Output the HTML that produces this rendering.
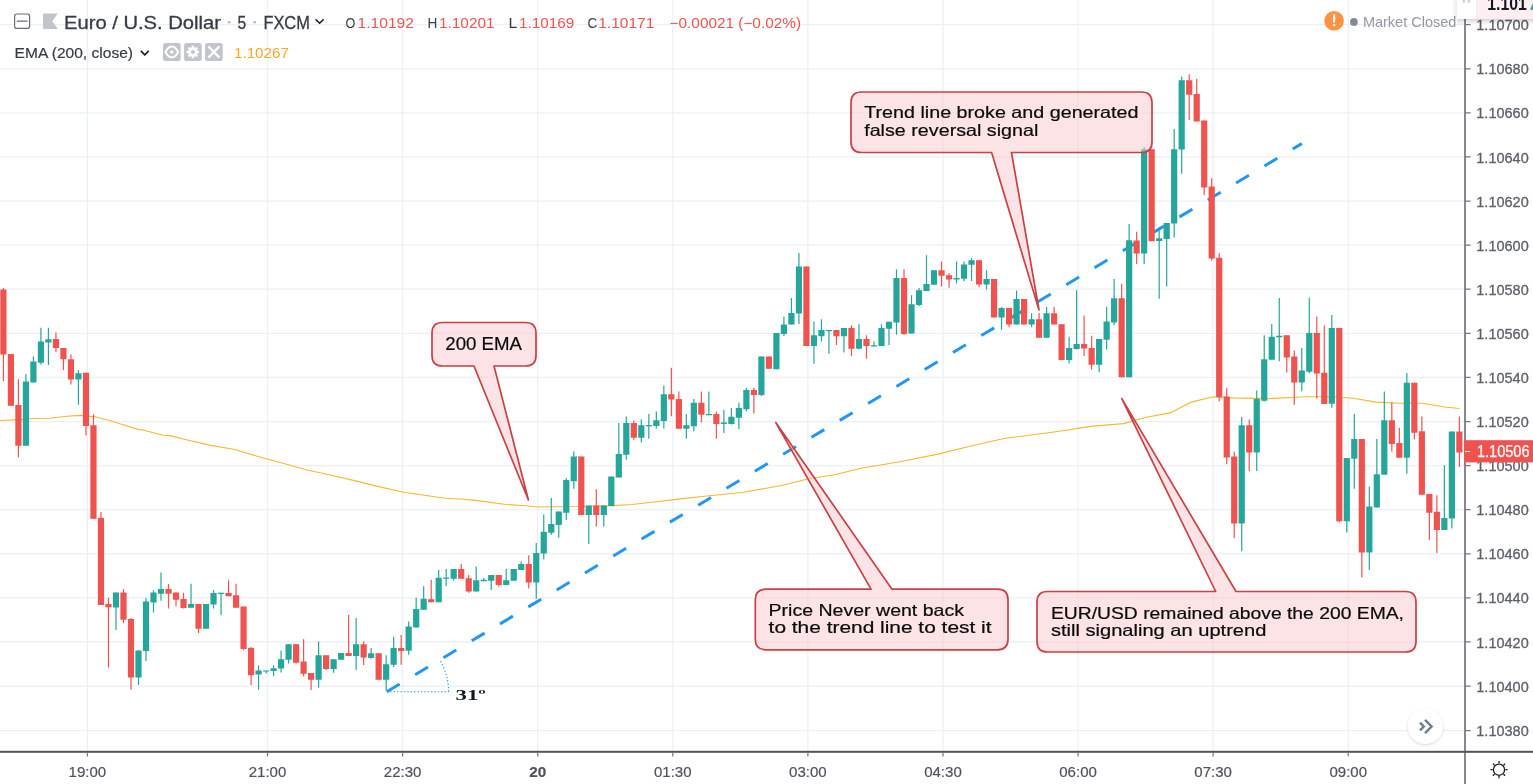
<!DOCTYPE html>
<html><head><meta charset="utf-8"><style>
html,body{margin:0;padding:0;background:#fff;width:1533px;height:784px;overflow:hidden}
svg{display:block;will-change:transform}
text{font-family:"Liberation Sans",sans-serif}
</style></head><body>
<svg width="1533" height="784" viewBox="0 0 1533 784">
<rect width="1533" height="784" fill="#fff"/>
<path d="M87.4 0V751M267.52 0V751M402.61 0V751M537.7 0V751M672.79 0V751M807.88 0V751M942.97 0V751M1078.06 0V751M1213.15 0V751M1348.24 0V751M0 24.7H1465M0 68.79H1465M0 112.88H1465M0 156.97H1465M0 201.06H1465M0 245.15H1465M0 289.24H1465M0 333.33H1465M0 377.42H1465M0 421.51H1465M0 465.6H1465M0 509.69H1465M0 553.78H1465M0 597.87H1465M0 641.96H1465M0 686.05H1465M0 730.7H1465" stroke="#ebf0f4" stroke-width="1.25" fill="none"/>
<polyline points="0,420.5 23,419.4 34,418.5 50,418.2 60,417 70,416 81,415.4 90,416.4 95,416.8 114,421.7 120,423.8 138,429.4 143,430 162,435 170,435.6 186.5,439.8 210.7,445.4 234.8,449.5 259,456.7 283,463.2 307,470 331.4,475.3 355.5,480.9 379.7,486.9 403.8,492.2 428,495.8 445,498.2 460,499 475.6,500.4 506,504.5 526.6,505.7 537,507 552,506.7 583,506.5 613,505.6 632,504.5 652,502.2 678.3,499.1 704.4,496.2 743.5,492.3 782.6,485.2 808.7,478.7 834.8,474.8 861,468.3 900,461.7 939,453.9 972,445.8 1005,438.2 1020,436.5 1055.7,431.8 1091,426.4 1123.6,423.6 1145,417.5 1170,412.9 1191.4,402.1 1212.9,396.8 1234,397.9 1270,398.6 1305.7,396.8 1334.6,396.7 1353,398.3 1376,402.1 1399,403.3 1422,403.3 1444.8,407 1459.3,408.5" fill="none" stroke="#f7b72c" stroke-width="1.1" stroke-linejoin="round"/>
<line x1="386.8" y1="691.7" x2="1301.8" y2="143.6" stroke="#2196f3" stroke-width="3" stroke-dasharray="15 18"/>
<path d="M25.31 374h1.2v71.8h-1.2zM32.82 356.5h1.2v25.9h-1.2zM40.32 327.8h1.2v36.7h-1.2zM47.83 327.8h1.2v37.2h-1.2zM77.85 370h1.2v34.7h-1.2zM115.38 592.6h1.2v37.3h-1.2zM137.89 650.4h1.2v34.7h-1.2zM145.4 598h1.2v63h-1.2zM152.9 590.2h1.2v22.4h-1.2zM160.41 572.5h1.2v28.3h-1.2zM190.43 583.8h1.2v23.9h-1.2zM205.44 604.1h1.2v24.7h-1.2zM212.94 590h1.2v18.6h-1.2zM220.45 592.7h1.2v22.3h-1.2zM257.97 665.4h1.2v24.4h-1.2zM265.47 670.4h1.2v3h-1.2zM272.98 665.3h1.2v11h-1.2zM280.48 650.4h1.2v22h-1.2zM287.99 644.3h1.2v19.2h-1.2zM318.01 641.5h1.2v46.3h-1.2zM333.02 659.3h1.2v13.4h-1.2zM340.52 652.9h1.2v6.8h-1.2zM355.53 617.9h1.2v52h-1.2zM370.54 648h1.2v10.7h-1.2zM385.55 655.2h1.2v35.4h-1.2zM393.06 636.7h1.2v30.4h-1.2zM408.07 621.4h1.2v33.4h-1.2zM415.57 597.8h1.2v29.7h-1.2zM423.08 586.3h1.2v23.4h-1.2zM438.09 570.1h1.2v32.1h-1.2zM445.59 569.1h1.2v16.9h-1.2zM453.1 569.1h1.2v11.3h-1.2zM475.61 566.5h1.2v24.9h-1.2zM483.12 577.8h1.2v3.4h-1.2zM490.62 575.1h1.2v14.9h-1.2zM505.63 569h1.2v15.9h-1.2zM513.14 569h1.2v11.8h-1.2zM520.64 561.4h1.2v8.6h-1.2zM535.65 543.1h1.2v55.7h-1.2zM543.16 514.4h1.2v45h-1.2zM550.66 498h1.2v36.7h-1.2zM558.17 511.6h1.2v26.2h-1.2zM565.67 478h1.2v42h-1.2zM573.18 451.4h1.2v37.4h-1.2zM588.19 505.5h1.2v38.4h-1.2zM603.2 505.5h1.2v21h-1.2zM610.7 476.5h1.2v29.6h-1.2zM618.21 422.9h1.2v54.7h-1.2zM625.71 416.5h1.2v43.3h-1.2zM640.72 419.2h1.2v23.4h-1.2zM648.23 414h1.2v24.8h-1.2zM655.73 411.5h1.2v17.1h-1.2zM663.24 385.4h1.2v43.2h-1.2zM685.75 414h1.2v24.8h-1.2zM693.26 399h1.2v32.3h-1.2zM708.27 391.4h1.2v23.8h-1.2zM723.28 410h1.2v23h-1.2zM730.78 408h1.2v16.5h-1.2zM738.29 402.7h1.2v26.2h-1.2zM745.79 387.7h1.2v23.5h-1.2zM760.8 356.6h1.2v39.3h-1.2zM775.81 333.1h1.2v36.1h-1.2zM783.32 316.7h1.2v19.3h-1.2zM790.82 298h1.2v26.6h-1.2zM798.33 252.9h1.2v71h-1.2zM813.34 321.5h1.2v42.2h-1.2zM820.84 319.2h1.2v22.2h-1.2zM828.35 330.1h1.2v23.7h-1.2zM843.36 328.1h1.2v24.5h-1.2zM858.37 324.2h1.2v25.3h-1.2zM873.38 341.5h1.2v4.9h-1.2zM880.88 324.2h1.2v21.9h-1.2zM888.39 321.8h1.2v23.1h-1.2zM895.89 269.3h1.2v65.4h-1.2zM910.9 295.3h1.2v38.3h-1.2zM918.41 287.9h1.2v18.4h-1.2zM925.91 255.2h1.2v35.9h-1.2zM933.42 270.3h1.2v14.5h-1.2zM955.93 261.5h1.2v22h-1.2zM963.44 261.5h1.2v19.7h-1.2zM970.94 258h1.2v23h-1.2zM985.95 270.3h1.2v19.1h-1.2zM1000.96 307h1.2v22.7h-1.2zM1015.97 290.5h1.2v34.1h-1.2zM1030.99 313.2h1.2v14h-1.2zM1046 307h1.2v30.7h-1.2zM1068.51 336.8h1.2v26.8h-1.2zM1076.02 290.3h1.2v59.3h-1.2zM1098.53 339.1h1.2v33.2h-1.2zM1106.04 306.7h1.2v42.9h-1.2zM1113.54 279h1.2v45.9h-1.2zM1128.55 224.1h1.2v153.2h-1.2zM1143.56 146.9h1.2v117h-1.2zM1158.57 227.1h1.2v71.7h-1.2zM1166.08 223h1.2v63.4h-1.2zM1173.58 129.1h1.2v108.5h-1.2zM1181.09 76.5h1.2v97.2h-1.2zM1241.13 416.9h1.2v134.4h-1.2zM1256.14 390.6h1.2v80.3h-1.2zM1263.64 335.3h1.2v66.1h-1.2zM1271.15 324.1h1.2v35.7h-1.2zM1278.65 298h1.2v63.2h-1.2zM1301.17 348h1.2v43.3h-1.2zM1308.67 297.7h1.2v75.9h-1.2zM1331.19 315h1.2v92.7h-1.2zM1346.2 458h1.2v74.4h-1.2zM1353.7 414h1.2v74.7h-1.2zM1368.71 486.4h1.2v83.5h-1.2zM1376.22 439.1h1.2v68.5h-1.2zM1383.72 391.4h1.2v83.4h-1.2zM1406.24 373h1.2v100.8h-1.2zM1443.76 465.3h1.2v64.7h-1.2zM1451.27 431.5h1.2v97h-1.2z" fill="#26a69a"/>
<path d="M2.8 288h1.2v93h-1.2zM10.3 353.9h1.2v51.9h-1.2zM17.81 379.2h1.2v78h-1.2zM55.33 332.6h1.2v19.7h-1.2zM62.84 348.1h1.2v21.9h-1.2zM70.35 354.2h1.2v30.3h-1.2zM85.36 372.8h1.2v62.8h-1.2zM92.86 414.3h1.2v104.4h-1.2zM100.37 511.9h1.2v93h-1.2zM107.87 597.8h1.2v69.6h-1.2zM122.88 589h1.2v34.3h-1.2zM130.38 618h1.2v71.8h-1.2zM167.91 583.9h1.2v24.7h-1.2zM175.42 592.6h1.2v13.7h-1.2zM182.92 592.7h1.2v15.9h-1.2zM197.93 604.1h1.2v28.8h-1.2zM227.95 580.2h1.2v16.1h-1.2zM235.46 583.8h1.2v23.9h-1.2zM242.96 606.4h1.2v43.8h-1.2zM250.47 647h1.2v38h-1.2zM295.49 644.3h1.2v19.2h-1.2zM303 639.3h1.2v37h-1.2zM310.5 673h1.2v16.9h-1.2zM325.51 655.2h1.2v14.7h-1.2zM348.03 615h1.2v41.1h-1.2zM363.04 641.6h1.2v23.4h-1.2zM378.05 653.3h1.2v26.4h-1.2zM400.56 635.1h1.2v29.7h-1.2zM430.58 579.7h1.2v22.5h-1.2zM460.6 563.9h1.2v14.9h-1.2zM468.11 575.1h1.2v17.6h-1.2zM498.13 575.1h1.2v11.4h-1.2zM528.15 555.3h1.2v33.3h-1.2zM580.68 456.5h1.2v58.4h-1.2zM595.69 489.2h1.2v37.3h-1.2zM633.22 420.4h1.2v19.4h-1.2zM670.74 367.8h1.2v48.4h-1.2zM678.25 391.4h1.2v37.3h-1.2zM700.76 391.4h1.2v31.2h-1.2zM715.77 411.5h1.2v27.3h-1.2zM753.3 387.7h1.2v25.9h-1.2zM768.31 356.6h1.2v12.2h-1.2zM805.83 266.5h1.2v79.6h-1.2zM835.85 330.1h1.2v14.8h-1.2zM850.86 325.3h1.2v30.8h-1.2zM865.87 335.3h1.2v23.4h-1.2zM903.4 269.3h1.2v65.7h-1.2zM940.92 261.5h1.2v25h-1.2zM948.43 273h1.2v14.7h-1.2zM978.45 260.3h1.2v26.9h-1.2zM993.46 279h1.2v38.5h-1.2zM1008.47 308.1h1.2v19.1h-1.2zM1023.48 299.1h1.2v25.5h-1.2zM1038.49 312.9h1.2v24.8h-1.2zM1053.5 307h1.2v17.6h-1.2zM1061.01 324.2h1.2v35.7h-1.2zM1083.52 315.4h1.2v40.6h-1.2zM1091.03 335.8h1.2v33.6h-1.2zM1121.05 283.8h1.2v93.5h-1.2zM1136.06 231.7h1.2v32.2h-1.2zM1151.07 149.2h1.2v92h-1.2zM1188.59 74.2h1.2v45.9h-1.2zM1196.1 79h1.2v42.4h-1.2zM1203.6 120.5h1.2v74.6h-1.2zM1211.11 178.3h1.2v82.3h-1.2zM1218.61 253.1h1.2v148.1h-1.2zM1226.12 388.3h1.2v75.9h-1.2zM1233.62 451.5h1.2v86.4h-1.2zM1248.63 419.6h1.2v51.3h-1.2zM1286.16 335.3h1.2v37.1h-1.2zM1293.66 350.4h1.2v54.3h-1.2zM1316.18 316.4h1.2v82.2h-1.2zM1323.68 325.4h1.2v78.5h-1.2zM1338.69 327.9h1.2v194.5h-1.2zM1361.21 439.1h1.2v138.4h-1.2zM1391.23 402.6h1.2v48.8h-1.2zM1398.73 427.8h1.2v29.9h-1.2zM1413.74 382.7h1.2v56.9h-1.2zM1421.25 416.6h1.2v78.2h-1.2zM1428.75 494.1h1.2v45.9h-1.2zM1436.26 495.3h1.2v57.7h-1.2zM1458.77 416.6h1.2v50.5h-1.2z" fill="#ef5350"/>
<path d="M22.81 381.5h6.2v64.3h-6.2zM30.32 361.5h6.2v20.9h-6.2zM37.82 341.5h6.2v21.2h-6.2zM45.33 339.2h6.2v3.2h-6.2zM75.35 373.3h6.2v6.2h-6.2zM112.88 592.6h6.2v14.9h-6.2zM135.39 650.4h6.2v27.1h-6.2zM142.9 601.6h6.2v49.5h-6.2zM150.4 592.6h6.2v9.9h-6.2zM157.91 589h6.2v4.8h-6.2zM187.93 604.1h6.2v3.6h-6.2zM202.94 604.1h6.2v24.7h-6.2zM210.44 593h6.2v11.6h-6.2zM217.95 592.7h6.2v1.2h-6.2zM255.47 670.4h6.2v4.2h-6.2zM262.97 670.4h6.2v1.2h-6.2zM270.48 668.2h6.2v2.8h-6.2zM277.98 659.3h6.2v9.3h-6.2zM285.49 644.3h6.2v15.4h-6.2zM315.51 655.2h6.2v24.5h-6.2zM330.52 659.3h6.2v9.6h-6.2zM338.02 652.9h6.2v6.8h-6.2zM353.03 644.3h6.2v11.6h-6.2zM368.04 653.3h6.2v4.8h-6.2zM383.05 664.2h6.2v15.5h-6.2zM390.56 648h6.2v16.8h-6.2zM405.57 626.5h6.2v24.3h-6.2zM413.07 608.9h6.2v18.6h-6.2zM420.58 598.8h6.2v10.9h-6.2zM435.59 577.7h6.2v24.5h-6.2zM443.09 577.6h6.2v1.2h-6.2zM450.6 569.1h6.2v9.7h-6.2zM473.11 580.2h6.2v11.2h-6.2zM480.62 579.8h6.2v1.4h-6.2zM488.12 575.1h6.2v5.7h-6.2zM503.13 580.2h6.2v4.7h-6.2zM510.64 569h6.2v11.8h-6.2zM518.14 563.9h6.2v6.1h-6.2zM533.15 552.9h6.2v29.5h-6.2zM540.66 531.7h6.2v21.7h-6.2zM548.16 523.9h6.2v8.8h-6.2zM555.67 511.6h6.2v13.3h-6.2zM563.17 480h6.2v32.7h-6.2zM570.68 456.5h6.2v24.7h-6.2zM585.69 505.5h6.2v9.4h-6.2zM600.7 505.5h6.2v9.4h-6.2zM608.2 476.5h6.2v29.6h-6.2zM615.71 454.1h6.2v23.5h-6.2zM623.21 423h6.2v31.7h-6.2zM638.22 425.2h6.2v12.5h-6.2zM645.73 425.1h6.2v1.2h-6.2zM653.23 420.3h6.2v5.7h-6.2zM660.74 394.2h6.2v26.9h-6.2zM683.25 425.2h6.2v3.5h-6.2zM690.76 402.8h6.2v23.4h-6.2zM705.77 414h6.2v1.2h-6.2zM720.78 422.6h6.2v1.4h-6.2zM728.28 416.7h6.2v7.3h-6.2zM735.79 408h6.2v9.7h-6.2zM743.29 390h6.2v19.2h-6.2zM758.3 356.6h6.2v38.3h-6.2zM773.31 333.1h6.2v36.1h-6.2zM780.82 324.4h6.2v9.7h-6.2zM788.32 313h6.2v11.6h-6.2zM795.83 266.5h6.2v47h-6.2zM810.84 335.3h6.2v10.8h-6.2zM818.34 330.1h6.2v6.1h-6.2zM825.85 330h6.2v1.2h-6.2zM840.86 328.1h6.2v8.1h-6.2zM855.87 339.1h6.2v9.6h-6.2zM870.88 345.2h6.2v1.2h-6.2zM878.38 328.1h6.2v18h-6.2zM885.89 321.8h6.2v7h-6.2zM893.39 277.9h6.2v44.7h-6.2zM908.4 304.2h6.2v29.4h-6.2zM915.91 290.2h6.2v14.9h-6.2zM923.41 284.1h6.2v7h-6.2zM930.92 270.3h6.2v14.5h-6.2zM953.43 278.1h6.2v1.5h-6.2zM960.94 264.4h6.2v14.3h-6.2zM968.44 260.3h6.2v4.4h-6.2zM983.45 279h6.2v5.6h-6.2zM998.46 308.1h6.2v9.4h-6.2zM1013.47 299.1h6.2v25.5h-6.2zM1028.49 319.3h6.2v5.3h-6.2zM1043.5 313.2h6.2v24.5h-6.2zM1066.01 348h6.2v11.9h-6.2zM1073.52 344.1h6.2v4.9h-6.2zM1096.03 339.1h6.2v25.7h-6.2zM1103.54 321.5h6.2v18.2h-6.2zM1111.04 298.2h6.2v24.3h-6.2zM1126.05 240.3h6.2v137h-6.2zM1141.06 149.2h6.2v104.4h-6.2zM1156.07 238.3h6.2v2.6h-6.2zM1163.58 223h6.2v15.9h-6.2zM1171.08 149.2h6.2v74.4h-6.2zM1178.59 80.3h6.2v69.3h-6.2zM1238.63 425.2h6.2v98.2h-6.2zM1253.64 399.1h6.2v53.3h-6.2zM1261.14 359.2h6.2v41.6h-6.2zM1268.65 336.7h6.2v23.1h-6.2zM1276.15 335.7h6.2v1.6h-6.2zM1298.67 370.4h6.2v12.2h-6.2zM1306.17 332.9h6.2v38.9h-6.2zM1328.69 327.9h6.2v75.9h-6.2zM1343.7 458h6.2v63.3h-6.2zM1351.2 439.1h6.2v19.6h-6.2zM1366.21 506.6h6.2v46h-6.2zM1373.72 474.2h6.2v33.4h-6.2zM1381.22 420.2h6.2v54.6h-6.2zM1403.74 382.7h6.2v75h-6.2zM1441.26 518.1h6.2v11.9h-6.2zM1448.77 431.5h6.2v87.1h-6.2z" fill="#26a69a"/>
<path d="M0.3 289.6h6.2v65h-6.2zM7.8 353.9h6.2v51.9h-6.2zM15.31 405.1h6.2v40.7h-6.2zM52.83 339.1h6.2v9h-6.2zM60.34 348.1h6.2v11.2h-6.2zM67.85 359.3h6.2v20.2h-6.2zM82.86 372.8h6.2v53.3h-6.2zM90.36 425.2h6.2v93.5h-6.2zM97.87 517.8h6.2v87.1h-6.2zM105.37 603.9h6.2v3.3h-6.2zM120.38 592.6h6.2v27.1h-6.2zM127.88 619h6.2v58.5h-6.2zM165.41 589h6.2v4.8h-6.2zM172.92 592.6h6.2v7.1h-6.2zM180.42 598.9h6.2v9h-6.2zM195.43 604.1h6.2v24.7h-6.2zM225.45 593h6.2v3.3h-6.2zM232.96 595.2h6.2v12.5h-6.2zM240.46 606.4h6.2v42.5h-6.2zM247.97 647.9h6.2v27.3h-6.2zM292.99 644.3h6.2v18.5h-6.2zM300.5 661.6h6.2v12.1h-6.2zM308 673h6.2v6.7h-6.2zM323.01 655.2h6.2v13.7h-6.2zM345.53 652.9h6.2v3.2h-6.2zM360.54 644.3h6.2v13.3h-6.2zM375.55 653.3h6.2v26.4h-6.2zM398.06 648h6.2v3h-6.2zM428.08 599.2h6.2v3h-6.2zM458.1 569h6.2v9.8h-6.2zM465.61 578.2h6.2v13.4h-6.2zM495.63 575.1h6.2v9.8h-6.2zM525.65 563.9h6.2v18.5h-6.2zM578.18 456.5h6.2v58.4h-6.2zM593.19 505.5h6.2v9.4h-6.2zM630.72 423h6.2v14.7h-6.2zM668.24 394.2h6.2v5.4h-6.2zM675.75 399h6.2v29.7h-6.2zM698.26 402.8h6.2v11.9h-6.2zM713.27 414h6.2v9.9h-6.2zM750.8 390h6.2v4.9h-6.2zM765.81 356.6h6.2v12.2h-6.2zM803.33 266.5h6.2v79.6h-6.2zM833.35 330.1h6.2v6.1h-6.2zM848.36 328.1h6.2v20.6h-6.2zM863.37 339.1h6.2v7h-6.2zM900.9 277.9h6.2v56.1h-6.2zM938.42 270.3h6.2v5.5h-6.2zM945.93 275.3h6.2v4.3h-6.2zM975.95 260.3h6.2v24.3h-6.2zM990.96 279h6.2v38.5h-6.2zM1005.97 308.1h6.2v16.5h-6.2zM1020.98 299.1h6.2v25.5h-6.2zM1035.99 319.3h6.2v18.4h-6.2zM1051 313.2h6.2v11.4h-6.2zM1058.51 324.2h6.2v35.7h-6.2zM1081.02 344.1h6.2v4.5h-6.2zM1088.53 348h6.2v16.8h-6.2zM1118.55 298.2h6.2v79.1h-6.2zM1133.56 240.5h6.2v13.1h-6.2zM1148.57 149.2h6.2v92h-6.2zM1186.09 80.3h6.2v14.4h-6.2zM1193.6 94.1h6.2v27.3h-6.2zM1201.1 120.5h6.2v66.9h-6.2zM1208.61 186.5h6.2v72.1h-6.2zM1216.11 257.8h6.2v139.5h-6.2zM1223.62 396.6h6.2v60.9h-6.2zM1231.12 456.4h6.2v67h-6.2zM1246.13 425.2h6.2v27.2h-6.2zM1283.66 335.3h6.2v22.3h-6.2zM1291.16 356.5h6.2v26.1h-6.2zM1313.68 332.9h6.2v40.7h-6.2zM1321.18 372.7h6.2v31.2h-6.2zM1336.19 327.9h6.2v193.4h-6.2zM1358.71 439.1h6.2v113.5h-6.2zM1388.73 420.2h6.2v23.7h-6.2zM1396.23 443h6.2v14.7h-6.2zM1411.24 382.7h6.2v50h-6.2zM1418.75 431.2h6.2v63.6h-6.2zM1426.25 494.1h6.2v18.7h-6.2zM1433.76 511.7h6.2v18.3h-6.2zM1456.27 431.5h6.2v21.1h-6.2z" fill="#ef5350"/>
<path d="M386.8 691.7H448.6" stroke="#2196f3" stroke-width="1.1" stroke-dasharray="1.4 2" fill="none"/>
<path d="M448.6 691.7A61.8 61.8 0 0 0 439.6 659.5" stroke="#2196f3" stroke-width="1.1" stroke-dasharray="1.4 2" fill="none"/>
<text x="455.5" y="700" style="font-family:'Liberation Serif',serif;font-weight:bold" font-size="15" fill="#131722" textLength="30.3" lengthAdjust="spacingAndGlyphs">31º</text>
<path d="M442.5 322.5H525.5Q536 322.5 536 333V355.5Q536 366 525.5 366H494L528.4 500L474 366H442.5Q432 366 432 355.5V333Q432 322.5 442.5 322.5Z" fill="rgba(250,200,205,0.5)" stroke="#c94045" stroke-width="1.7" stroke-linejoin="round"/>
<path d="M861.5 92H1141.5Q1152 92 1152 102.5V142Q1152 152.5 1141.5 152.5H1011.5L1039 310L991.6 152.5H861.5Q851 152.5 851 142V102.5Q851 92 861.5 92Z" fill="rgba(250,200,205,0.5)" stroke="#c94045" stroke-width="1.7" stroke-linejoin="round"/>
<path d="M765.8 589.2H871L775.8 422.6L892 589.2H997.5Q1008 589.2 1008 599.7V639.3Q1008 649.8 997.5 649.8H765.8Q755.3 649.8 755.3 639.3V599.7Q755.3 589.2 765.8 589.2Z" fill="rgba(250,200,205,0.5)" stroke="#c94045" stroke-width="1.7" stroke-linejoin="round"/>
<path d="M1047.5 591.5H1215.7L1121.8 398.6L1236 591.5H1405.5Q1416 591.5 1416 602V641.5Q1416 652 1405.5 652H1047.5Q1037 652 1037 641.5V602Q1037 591.5 1047.5 591.5Z" fill="rgba(250,200,205,0.5)" stroke="#c94045" stroke-width="1.7" stroke-linejoin="round"/>
<text x="445.3" y="350.3" font-size="17.8" fill="#0b0b0b" stroke="#0b0b0b" stroke-width="0.2" textLength="76.7" lengthAdjust="spacingAndGlyphs">200 EMA</text>
<text x="864.2" y="118" font-size="16.5" fill="#0b0b0b" stroke="#0b0b0b" stroke-width="0.2" textLength="274.3" lengthAdjust="spacingAndGlyphs">Trend line broke and generated</text>
<text x="864.2" y="136" font-size="16.5" fill="#0b0b0b" stroke="#0b0b0b" stroke-width="0.2" textLength="174.2" lengthAdjust="spacingAndGlyphs">false reversal signal</text>
<text x="768.6" y="616" font-size="16.5" fill="#0b0b0b" stroke="#0b0b0b" stroke-width="0.2" textLength="195.4" lengthAdjust="spacingAndGlyphs">Price Never went back</text>
<text x="768.6" y="633" font-size="16.5" fill="#0b0b0b" stroke="#0b0b0b" stroke-width="0.2" textLength="222.9" lengthAdjust="spacingAndGlyphs">to the trend line to test it</text>
<text x="1050.9" y="618.6" font-size="16.5" fill="#0b0b0b" stroke="#0b0b0b" stroke-width="0.2" textLength="353.1" lengthAdjust="spacingAndGlyphs">EUR/USD remained above the 200 EMA,</text>
<text x="1050.9" y="635.7" font-size="16.5" fill="#0b0b0b" stroke="#0b0b0b" stroke-width="0.2" textLength="215.5" lengthAdjust="spacingAndGlyphs">still signaling an uptrend</text>
<rect x="1464.1" y="0" width="1.8" height="784" fill="#787b86"/>
<rect x="0" y="750.8" width="1533" height="2" fill="#50535e"/>
<path d="M1465 24.7h5.7M1465 68.79h5.7M1465 112.88h5.7M1465 156.97h5.7M1465 201.06h5.7M1465 245.15h5.7M1465 289.24h5.7M1465 333.33h5.7M1465 377.42h5.7M1465 421.51h5.7M1465 465.6h5.7M1465 509.69h5.7M1465 553.78h5.7M1465 597.87h5.7M1465 641.96h5.7M1465 686.05h5.7M1465 730.7h5.7M87.4 752v4.5M267.52 752v4.5M402.61 752v4.5M537.7 752v4.5M672.79 752v4.5M807.88 752v4.5M942.97 752v4.5M1078.06 752v4.5M1213.15 752v4.5M1348.24 752v4.5" stroke="#787b86" stroke-width="1.25" fill="none"/>
<text x="1476.3" y="30.3" font-size="15.4" fill="#5d606b" stroke="#5d606b" stroke-width="0.3" textLength="52.4" lengthAdjust="spacingAndGlyphs">1.10700</text>
<text x="1476.3" y="74.39" font-size="15.4" fill="#5d606b" stroke="#5d606b" stroke-width="0.3" textLength="52.4" lengthAdjust="spacingAndGlyphs">1.10680</text>
<text x="1476.3" y="118.48" font-size="15.4" fill="#5d606b" stroke="#5d606b" stroke-width="0.3" textLength="52.4" lengthAdjust="spacingAndGlyphs">1.10660</text>
<text x="1476.3" y="162.57" font-size="15.4" fill="#5d606b" stroke="#5d606b" stroke-width="0.3" textLength="52.4" lengthAdjust="spacingAndGlyphs">1.10640</text>
<text x="1476.3" y="206.66" font-size="15.4" fill="#5d606b" stroke="#5d606b" stroke-width="0.3" textLength="52.4" lengthAdjust="spacingAndGlyphs">1.10620</text>
<text x="1476.3" y="250.75" font-size="15.4" fill="#5d606b" stroke="#5d606b" stroke-width="0.3" textLength="52.4" lengthAdjust="spacingAndGlyphs">1.10600</text>
<text x="1476.3" y="294.84" font-size="15.4" fill="#5d606b" stroke="#5d606b" stroke-width="0.3" textLength="52.4" lengthAdjust="spacingAndGlyphs">1.10580</text>
<text x="1476.3" y="338.93" font-size="15.4" fill="#5d606b" stroke="#5d606b" stroke-width="0.3" textLength="52.4" lengthAdjust="spacingAndGlyphs">1.10560</text>
<text x="1476.3" y="383.02" font-size="15.4" fill="#5d606b" stroke="#5d606b" stroke-width="0.3" textLength="52.4" lengthAdjust="spacingAndGlyphs">1.10540</text>
<text x="1476.3" y="427.11" font-size="15.4" fill="#5d606b" stroke="#5d606b" stroke-width="0.3" textLength="52.4" lengthAdjust="spacingAndGlyphs">1.10520</text>
<text x="1476.3" y="471.2" font-size="15.4" fill="#5d606b" stroke="#5d606b" stroke-width="0.3" textLength="52.4" lengthAdjust="spacingAndGlyphs">1.10500</text>
<text x="1476.3" y="515.29" font-size="15.4" fill="#5d606b" stroke="#5d606b" stroke-width="0.3" textLength="52.4" lengthAdjust="spacingAndGlyphs">1.10480</text>
<text x="1476.3" y="559.38" font-size="15.4" fill="#5d606b" stroke="#5d606b" stroke-width="0.3" textLength="52.4" lengthAdjust="spacingAndGlyphs">1.10460</text>
<text x="1476.3" y="603.47" font-size="15.4" fill="#5d606b" stroke="#5d606b" stroke-width="0.3" textLength="52.4" lengthAdjust="spacingAndGlyphs">1.10440</text>
<text x="1476.3" y="647.56" font-size="15.4" fill="#5d606b" stroke="#5d606b" stroke-width="0.3" textLength="52.4" lengthAdjust="spacingAndGlyphs">1.10420</text>
<text x="1476.3" y="691.65" font-size="15.4" fill="#5d606b" stroke="#5d606b" stroke-width="0.3" textLength="52.4" lengthAdjust="spacingAndGlyphs">1.10400</text>
<text x="1476.3" y="736.3" font-size="15.4" fill="#5d606b" stroke="#5d606b" stroke-width="0.3" textLength="52.4" lengthAdjust="spacingAndGlyphs">1.10380</text>
<text x="87.4" y="777" font-size="14.8" text-anchor="middle" fill="#50535e" stroke="#50535e" stroke-width="0.2" textLength="37.6" lengthAdjust="spacingAndGlyphs">19:00</text>
<text x="267.52" y="777" font-size="14.8" text-anchor="middle" fill="#50535e" stroke="#50535e" stroke-width="0.2" textLength="37.6" lengthAdjust="spacingAndGlyphs">21:00</text>
<text x="402.61" y="777" font-size="14.8" text-anchor="middle" fill="#50535e" stroke="#50535e" stroke-width="0.2" textLength="37.6" lengthAdjust="spacingAndGlyphs">22:30</text>
<text x="537.7" y="777" font-size="14.8" text-anchor="middle" fill="#50535e" stroke="#50535e" stroke-width="0.2" textLength="17" lengthAdjust="spacingAndGlyphs" font-weight="bold">20</text>
<text x="672.79" y="777" font-size="14.8" text-anchor="middle" fill="#50535e" stroke="#50535e" stroke-width="0.2" textLength="37.6" lengthAdjust="spacingAndGlyphs">01:30</text>
<text x="807.88" y="777" font-size="14.8" text-anchor="middle" fill="#50535e" stroke="#50535e" stroke-width="0.2" textLength="37.6" lengthAdjust="spacingAndGlyphs">03:00</text>
<text x="942.97" y="777" font-size="14.8" text-anchor="middle" fill="#50535e" stroke="#50535e" stroke-width="0.2" textLength="37.6" lengthAdjust="spacingAndGlyphs">04:30</text>
<text x="1078.06" y="777" font-size="14.8" text-anchor="middle" fill="#50535e" stroke="#50535e" stroke-width="0.2" textLength="37.6" lengthAdjust="spacingAndGlyphs">06:00</text>
<text x="1213.15" y="777" font-size="14.8" text-anchor="middle" fill="#50535e" stroke="#50535e" stroke-width="0.2" textLength="37.6" lengthAdjust="spacingAndGlyphs">07:30</text>
<text x="1348.24" y="777" font-size="14.8" text-anchor="middle" fill="#50535e" stroke="#50535e" stroke-width="0.2" textLength="37.6" lengthAdjust="spacingAndGlyphs">09:00</text>
<rect x="1464.2" y="440.2" width="68.8" height="22.2" fill="#ef5350"/>
<path d="M1465 451.5h5" stroke="#fff" stroke-width="1"/>
<text x="1477" y="456.7" font-size="15.6" fill="#fff" stroke="#fff" stroke-width="0.25" textLength="52.5" lengthAdjust="spacingAndGlyphs">1.10506</text>
<rect x="14.6" y="14" width="15" height="14.4" rx="2.2" fill="#fff" stroke="#6a6d78" stroke-width="1.2"/>
<path d="M16.8 21.2H27.6" stroke="#8a8d96" stroke-width="1.6"/>
<path d="M43 13.5H57.8L52.3 21.2L57.8 28.9H43Z" fill="#c1c4cd"/>
<text x="64" y="28.7" font-size="19" fill="#363a45" stroke="#363a45" stroke-width="0.3" textLength="157" lengthAdjust="spacingAndGlyphs">Euro / U.S. Dollar</text>
<circle cx="229.2" cy="22.3" r="1.3" fill="#b2b5be"/><circle cx="254.7" cy="22.3" r="1.3" fill="#b2b5be"/>
<text x="237.6" y="28.7" font-size="19" fill="#363a45" stroke="#363a45" stroke-width="0.3" textLength="8.7" lengthAdjust="spacingAndGlyphs">5</text>
<text x="263.4" y="28.7" font-size="19" fill="#363a45" stroke="#363a45" stroke-width="0.3" textLength="46.5" lengthAdjust="spacingAndGlyphs">FXCM</text>
<path d="M315.6 19.2L319.6 23.2L323.6 19.2" stroke="#131722" stroke-width="1.5" fill="none"/>
<text x="345.4" y="28.4" font-size="14.5" fill="#363a45" textLength="9.8" lengthAdjust="spacingAndGlyphs">O</text>
<text x="357.5" y="28.4" font-size="14.5" fill="#ef5350" textLength="56.5" lengthAdjust="spacingAndGlyphs">1.10192</text>
<text x="427.6" y="28.4" font-size="14.5" fill="#363a45" textLength="9.8" lengthAdjust="spacingAndGlyphs">H</text>
<text x="439" y="28.4" font-size="14.5" fill="#ef5350" textLength="55.5" lengthAdjust="spacingAndGlyphs">1.10201</text>
<text x="508.5" y="28.4" font-size="14.5" fill="#363a45" textLength="8.8" lengthAdjust="spacingAndGlyphs">L</text>
<text x="519" y="28.4" font-size="14.5" fill="#ef5350" textLength="55.4" lengthAdjust="spacingAndGlyphs">1.10169</text>
<text x="587.4" y="28.4" font-size="14.5" fill="#363a45" textLength="9.8" lengthAdjust="spacingAndGlyphs">C</text>
<text x="598.2" y="28.4" font-size="14.5" fill="#ef5350" textLength="56.1" lengthAdjust="spacingAndGlyphs">1.10171</text>
<text x="669.6" y="28.4" font-size="14.5" fill="#ef5350" textLength="131.4" lengthAdjust="spacingAndGlyphs">−0.00021 (−0.02%)</text>
<text x="14.6" y="57.8" font-size="15" fill="#363a45" stroke="#363a45" stroke-width="0.2" textLength="118.4" lengthAdjust="spacingAndGlyphs">EMA (200, close)</text>
<path d="M140.8 50.9L144.8 54.9L148.8 50.9" stroke="#131722" stroke-width="1.5" fill="none"/>
<rect x="163" y="43" width="17.6" height="18" rx="2.5" fill="#c1c4cd"/>
<rect x="184.1" y="43" width="17.6" height="18" rx="2.5" fill="#c1c4cd"/>
<rect x="205.1" y="43" width="17.6" height="18" rx="2.5" fill="#c1c4cd"/>
<path d="M165.5 52C167.6 48 169.4 46.6 171.8 46.6C174.2 46.6 176 48 178.1 52C176 56 174.2 57.4 171.8 57.4C169.4 57.4 167.6 56 165.5 52Z" fill="none" stroke="#fff" stroke-width="2"/>
<circle cx="171.8" cy="52" r="1.7" fill="#fff"/>
<path d="M195.9 52L199.1 52M195.02 54.12L197.28 56.38M192.9 55L192.9 58.2M190.78 54.12L188.52 56.38M189.9 52L186.7 52M190.78 49.88L188.52 47.62M192.9 49L192.9 45.8M195.02 49.88L197.28 47.62" stroke="#fff" stroke-width="2.6"/>
<circle cx="192.9" cy="52" r="4.6" fill="#fff"/><circle cx="192.9" cy="52" r="2.1" fill="#c1c4cd"/>
<path d="M208.4 46.4L219.4 57.6M219.4 46.4L208.4 57.6" stroke="#fff" stroke-width="2.3"/>
<text x="234" y="57.8" font-size="15" fill="#f9a825" textLength="54.9" lengthAdjust="spacingAndGlyphs">1.10267</text>
<circle cx="1334.1" cy="20.7" r="9.8" fill="#ff9142"/>
<rect x="1333" y="14.2" width="2.2" height="8.2" fill="#fff"/><rect x="1333" y="24" width="2.2" height="2.2" fill="#fff"/>
<circle cx="1353.9" cy="21.9" r="3.9" fill="#868993"/>
<text x="1362.9" y="26.6" font-size="14.5" fill="#9598a1" textLength="93.5" lengthAdjust="spacingAndGlyphs">Market Closed</text>
<defs><linearGradient id="sh" x1="0" y1="0" x2="0" y2="1"><stop offset="0" stop-color="#000" stop-opacity="0.16"/><stop offset="1" stop-color="#000" stop-opacity="0"/></linearGradient><linearGradient id="shl" x1="1" y1="0" x2="0" y2="0"><stop offset="0" stop-color="#000" stop-opacity="0.08"/><stop offset="1" stop-color="#000" stop-opacity="0"/></linearGradient><filter id="bs" x="-50%" y="-50%" width="200%" height="200%"><feDropShadow dx="0" dy="1" stdDeviation="1.5" flood-color="#000" flood-opacity="0.18"/></filter></defs>
<rect x="1452" y="0" width="5" height="19" fill="url(#shl)"/>
<rect x="1457" y="19" width="76" height="6" fill="url(#sh)"/>
<rect x="1457" y="0" width="76" height="19" fill="#fff"/>
<rect x="1476.5" y="0" width="56.5" height="19" fill="#fdeff1"/>
<rect x="1476" y="0" width="0.8" height="19" fill="#e6e8ee"/>
<rect x="1462.8" y="0" width="2" height="2.6" fill="#c8cad0"/><rect x="1467.8" y="0" width="2" height="2.6" fill="#c8cad0"/>
<text x="1487.3" y="9.8" font-size="19" fill="#131722" textLength="39.5" lengthAdjust="spacingAndGlyphs" font-weight="bold">1.101</text>
<path d="M1530 9.8L1533 3V9.8Z" fill="#26a69a"/>
<circle cx="1425.4" cy="726.4" r="17.5" fill="#fff" filter="url(#bs)"/>
<path d="M1420 722.6L1423.8 726.5L1420 730.4M1425 719.8L1431.6 726.5L1425 733.2" stroke="#6a7d90" stroke-width="2.4" fill="none"/>
<circle cx="1499" cy="769.7" r="5.6" fill="none" stroke="#131722" stroke-width="1.3"/><path d="M1505.4 769.7L1507.6 769.7M1503.53 774.23L1505.08 775.78M1499 776.1L1499 778.3M1494.47 774.23L1492.92 775.78M1492.6 769.7L1490.4 769.7M1494.47 765.17L1492.92 763.62M1499 763.3L1499 761.1M1503.53 765.17L1505.08 763.62" stroke="#131722" stroke-width="1.3"/>
</svg>
</body></html>
